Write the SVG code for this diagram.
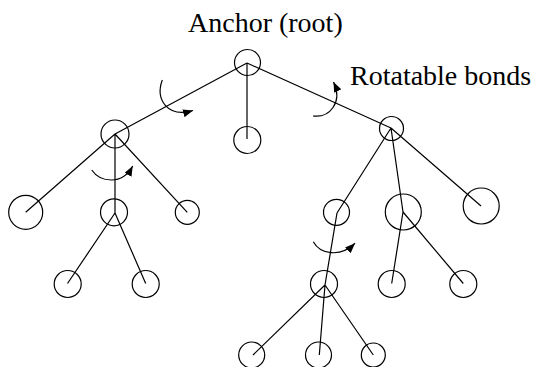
<svg xmlns="http://www.w3.org/2000/svg" width="537" height="367" viewBox="0 0 537 367">
<style>
.n{fill:none;stroke:#000;stroke-width:1.2}
.e{fill:none;stroke:#000;stroke-width:1.2}
.r{fill:none;stroke:#000;stroke-width:1.2}
.t{font-family:"Liberation Serif","Times New Roman",serif;font-size:28px;fill:#000}
</style>
<defs>
<marker id="ah" viewBox="0 0 10 8" refX="10" refY="4" markerWidth="10" markerHeight="8" markerUnits="userSpaceOnUse" orient="auto">
<path d="M0,0 L10,4 L0,8 Z" fill="#000"/>
</marker>
</defs>
<rect width="537" height="367" fill="#fff"/>
<g id="edges">
<path class="e" d="M247,63 L115,134 M247,63 L247,139 M247,63 L391,128"/>
<path class="e" d="M115,134 L25.7,212.3 M115,134 L115,213 M115,134 L187.3,212.3"/>
<path class="e" d="M115,213 L67.5,283.5 M115,213 L145.7,283.5"/>
<path class="e" d="M391,128 L337,213 M391,128 L403,212 M391,128 L481,206"/>
<path class="e" d="M337,213 L325,285 L319.3,355 M325,285 L253,355 M325,285 L373.3,355"/>
<path class="e" d="M403,212 L391.7,283.5 M403,212 L463.3,283.5"/>
</g>
<g id="rotations">
<path class="r" marker-end="url(#ah)" d="M162.3,80 C155,100 168,118 193,110.5"/>
<path class="r" marker-end="url(#ah)" d="M91.7,170 C100,182 122,186 132.7,166"/>
<path class="r" marker-end="url(#ah)" d="M313,116 C330,118 343,102 333.5,82"/>
<path class="r" marker-end="url(#ah)" d="M313.3,241.7 C320,254 340,258 355,243.3"/>
</g>
<g id="root"><circle class="n" cx="247.5" cy="62.5" r="13"/></g>
<g id="n-left"><circle class="n" cx="115" cy="134" r="14"/></g>
<g id="n-mid"><circle class="n" cx="247.3" cy="140" r="13.5"/></g>
<g id="n-right"><circle class="n" cx="391.5" cy="128.5" r="12"/></g>
<g id="n-a"><circle class="n" cx="25.7" cy="212.3" r="17"/></g>
<g id="n-b"><circle class="n" cx="114" cy="212.3" r="13.5"/></g>
<g id="n-c"><circle class="n" cx="187.3" cy="212.3" r="12"/></g>
<g id="n-d"><circle class="n" cx="67.7" cy="284" r="13.5"/></g>
<g id="n-e"><circle class="n" cx="145.7" cy="284" r="13.5"/></g>
<g id="n-f"><circle class="n" cx="336.5" cy="212.3" r="13"/></g>
<g id="n-g"><circle class="n" cx="403.3" cy="212" r="18"/></g>
<g id="n-h"><circle class="n" cx="481.2" cy="206" r="18"/></g>
<g id="n-i"><circle class="n" cx="324" cy="284" r="13.5"/></g>
<g id="n-j"><circle class="n" cx="251.7" cy="355" r="13"/></g>
<g id="n-k"><circle class="n" cx="318.5" cy="355" r="13"/></g>
<g id="n-l"><circle class="n" cx="373.3" cy="355" r="12"/></g>
<g id="n-n"><circle class="n" cx="391.7" cy="284" r="13.5"/></g>
<g id="n-o"><circle class="n" cx="463.3" cy="284" r="13.5"/></g>
<g id="labels">
<text class="t" x="188" y="32">Anchor (root)</text>
<text class="t" x="350" y="85">Rotatable bonds</text>
</g>
</svg>
